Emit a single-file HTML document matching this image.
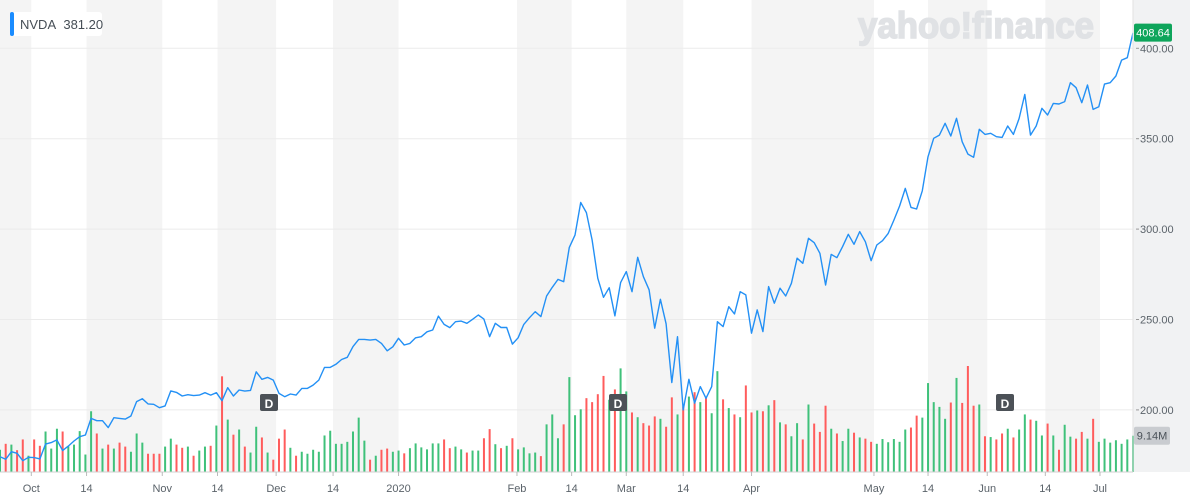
<!DOCTYPE html>
<html><head><meta charset="utf-8"><style>
html,body{margin:0;padding:0;background:#fff;}
svg{display:block;font-family:"Liberation Sans",sans-serif;}
</style></head><body>
<svg id="chart" width="1190" height="500" viewBox="0 0 1190 500" xmlns="http://www.w3.org/2000/svg">
<g id="bands"></g>
<rect x="1133" y="0" width="57" height="472" fill="#f1f2f3"/>
<g id="grid"></g>
<text x="976" y="38" font-size="37" font-weight="bold" fill="#e0e2e5" stroke="#e0e2e5" stroke-width="1.6" textLength="236" lengthAdjust="spacingAndGlyphs" text-anchor="middle">yahoo!finance</text>
<g id="vol"></g>
<g id="line"></g>
<g id="axes"></g>
<g>
<rect x="10" y="12" width="92" height="24" rx="3" fill="#fff"/>
<rect x="10" y="12" width="4" height="24" rx="2" fill="#1a8cff"/>
<text x="20" y="29" font-size="13" fill="#464e56">NVDA&#160; 381.20</text>
</g>
<g><rect x="260" y="394" width="18" height="17" rx="2" fill="#4c5157"/><text x="269" y="408" font-size="12" font-weight="bold" fill="#fff" text-anchor="middle">D</text></g>
<g><rect x="609" y="394" width="18" height="17" rx="2" fill="#4c5157"/><text x="618" y="408" font-size="12" font-weight="bold" fill="#fff" text-anchor="middle">D</text></g>
<g><rect x="996" y="394" width="18" height="17" rx="2" fill="#4c5157"/><text x="1005" y="408" font-size="12" font-weight="bold" fill="#fff" text-anchor="middle">D</text></g>
</svg>
<script>
const prices = [174.1,172.7,176.9,176.0,171.9,173.8,173.6,172.9,181.1,181.9,183.4,177.5,180.0,182.8,185.2,186.1,195.3,194.0,194.0,190.2,195.7,195.3,194.9,196.6,204.6,206.2,203.3,203.1,201.2,202.2,210.5,209.7,207.7,208.4,207.9,
208.2,209.5,208.2,209.5,205.1,212.3,207.7,211.0,210.4,210.8,221.1,216.9,218.0,216.5,209.1,207.3,208.8,208.2,211.9,211.9,213.7,216.5,223.5,223.5,225.2,227.9,229.1,235.0,239.0,239.0,238.6,239.0,236.8,232.7,
234.9,239.6,235.9,236.8,239.9,240.5,243.2,244.2,251.9,247.3,245.5,248.8,249.1,247.9,250.1,252.5,250.2,240.5,247.9,245.6,245.6,236.4,239.9,247.3,251.0,254.3,251.6,263.0,267.8,272.2,270.9,289.9,296.7,
314.7,309.1,294.0,272.8,262.3,267.6,252.0,270.4,276.5,265.4,284.4,273.7,266.4,245.2,261.2,247.6,215.1,240.5,200.0,216.9,203.7,212.9,206.4,212.9,248.8,246.1,257.1,253.1,265.4,263.6,242.4,255.3,243.3,268.2,259.0,267.3,263.0,270.0,283.9,
281.1,294.9,292.5,286.6,269.1,286.0,284.2,290.3,297.1,291.6,298.6,293.0,282.5,291.2,293.6,297.6,305.0,312.8,322.5,312.0,311.1,321.2,340.0,350.2,352.0,358.5,351.5,361.3,348.3,341.5,339.7,355.2,352.4,353.0,351.1,350.7,357.0,352.4,361.2,374.5,352.0,357.0,366.8,363.1,369.5,369.2,370.5,381.0,378.2,369.9,379.7,366.2,367.7,380.2,381.0,384.7,393.5,394.8,408.6];
const volumes = [5.6,7.1,6.9,5.5,8.2,4.1,8.2,6.6,10.2,5.9,10.9,10.2,6.5,6.9,10.3,4.4,15.3,9.7,5.9,6.9,5.9,7.4,6.4,5.1,9.7,7.4,4.6,4.6,4.6,6.4,8.4,6.9,6.1,6.4,4.1,5.4,6.4,6.6,11.7,24.1,13.2,9.4,10.7,6.4,4.9,11.4,8.7,4.9,3.1,8.4,10.7,6.1,4.1,5.1,4.6,5.6,5.1,9.2,10.4,7.1,7.1,7.6,10.2,13.7,7.9,3.1,4.1,5.6,5.9,5.1,5.4,
4.7,6.0,7.2,6.2,5.7,7.2,7.2,8.2,6.0,6.4,5.7,4.9,5.4,5.4,8.5,10.8,7.0,6.0,6.6,8.5,5.7,6.2,4.7,4.9,4.0,12.0,14.5,8.5,12.0,23.9,14.3,15.8,18.6,17.6,19.6,24.2,18.2,20.8,26.1,20.3,15.0,13.8,12.3,11.7,14.0,13.4,11.4,18.8,14.5,16.5,19.0,20.1,17.6,18.6,14.8,25.4,18.3,16.1,14.5,13.8,21.8,15.0,15.5,15.3,16.8,18.1,12.5,12.0,9.0,12.3,
8.2,17.0,12.2,10.1,16.7,10.9,9.7,7.8,10.9,9.9,8.7,8.4,7.6,7.1,8.3,7.5,8.3,7.6,10.7,11.2,14.2,13.7,22.4,17.6,16.4,13.4,17.5,23.7,17.4,26.7,16.7,17.0,9.0,8.8,8.2,9.7,10.9,8.7,10.7,14.5,13.2,12.9,9.2,12.2,9.2,5.6,11.9,8.9,8.4,10.1,8.4,13.4,7.6,8.4,7.4,8.0,7.1,8.2,9.14];
const xTickLabels = ["Oct","14","Nov","14","Dec","14","2020","Feb","14","Mar","14","Apr","May","14","Jun","14","Jul"];
const xTickIndex = [5.5,15.2,28.5,38.2,48.5,58.5,70,90.8,100.4,110,120,132,153.5,163,173.4,183.6,193.2];
const yTicks = [200,250,300,350,400];
const lastPrice = 408.64;
const lastVolume = 9.14;

const NS = "http://www.w3.org/2000/svg";
const plotW = 1133, step = plotW/(prices.length-1);
const xs = i => i*step;
const yp = p => 48.3 + (400-p)*1.808;
const baseY = 472, volPx = 3.97;
const yv = v => baseY - v*volPx;
function mk(tag, attrs, parent){const e=document.createElementNS(NS,tag);for(const k in attrs)e.setAttribute(k,attrs[k]);parent.appendChild(e);return e;}

const bands=document.getElementById('bands');
const edges=[0,...xTickIndex.map(xs),plotW];
for(let k=0;k<edges.length-1;k++){
  if(k%2===0){
    const r=mk('rect',{x:edges[k],y:0,width:edges[k+1]-edges[k],height:472,fill:'#f4f4f4'},bands);
    
    
  }
}
const grid=document.getElementById('grid');
yTicks.forEach(t=>{
  const y=yp(t);
  const l=mk('line',{x1:0,x2:plotW,y1:y,y2:y,stroke:'#ebebeb','stroke-width':1},grid);
  
  
  mk('line',{x1:plotW+3,x2:plotW+6,y1:y,y2:y,stroke:'#999'},grid);
  const tx=mk('text',{x:1140,y:y+4,'font-size':11,fill:'#5b636a'},grid);
  tx.textContent=t.toFixed(2);
  
  
});
const vol=document.getElementById('vol');
volumes.forEach((v,i)=>{
  const up = i===0 ? true : prices[i]>=prices[i-1];
  const b=mk('rect',{x:xs(i)-1,y:yv(v),width:2,height:v*volPx,fill:up?'#3fc17a':'#ff5c5c'},vol);
  
  
});
const line=document.getElementById('line');
const pl=mk('polyline',{points:prices.map((p,i)=>xs(i).toFixed(1)+','+yp(p).toFixed(1)).join(' '),fill:'none',stroke:'#2390f5','stroke-width':1.4,'stroke-linejoin':'round'},line);


const axes=document.getElementById('axes');
mk('line',{x1:0,x2:plotW,y1:baseY,y2:baseY,stroke:'#d0d0d0'},axes);
mk('line',{x1:plotW,x2:plotW,y1:0,y2:baseY,stroke:'#e2e2e2'},axes);
xTickLabels.forEach((lab,k)=>{
  const x=xs(xTickIndex[k]);
  mk('line',{x1:x,x2:x,y1:baseY,y2:baseY+4,stroke:'#bbb'},axes);
  const t=mk('text',{x:x,y:492,'font-size':11,fill:'#5b636a','text-anchor':'middle'},axes);
  t.textContent=lab;
  
  
});
const py=yp(lastPrice);
const pr=mk('rect',{x:1134,y:py-9,width:38,height:18,rx:2,fill:'#0ea55b'},axes);


const pt=mk('text',{x:1153,y:py+4,'font-size':11,fill:'#fff','text-anchor':'middle'},axes);
pt.textContent=lastPrice.toFixed(2);


const vy=yv(lastVolume);
const vr=mk('rect',{x:1134,y:vy-9,width:36,height:18,rx:2,fill:'#c9ccd0'},axes);


const vt=mk('text',{x:1152,y:vy+4,'font-size':11,fill:'#4a5158','text-anchor':'middle'},axes);
vt.textContent=lastVolume.toFixed(2)+'M';


</script>
</body></html>
